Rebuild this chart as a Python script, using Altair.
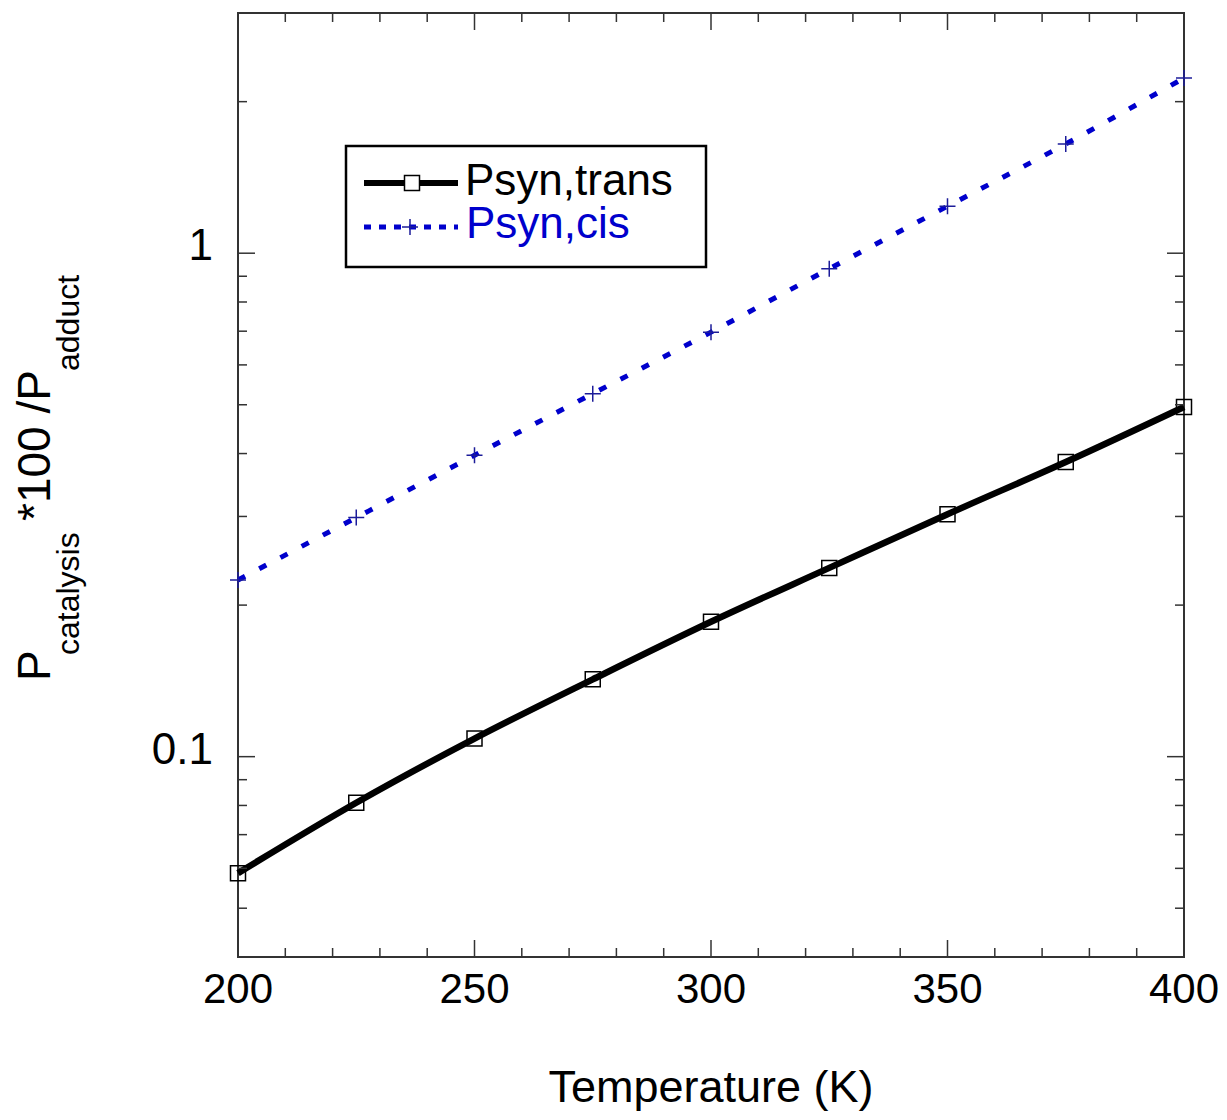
import altair as alt
import pandas as pd

# ---- data ----
temperature = [200, 225, 250, 275, 300, 325, 350, 375, 400]
p_trans = [0.0587, 0.0810, 0.1086, 0.1424, 0.1853, 0.2371, 0.3031, 0.3848, 0.4950]
p_cis = [0.2243, 0.2985, 0.3968, 0.5260, 0.6969, 0.9312, 1.2396, 1.6484, 2.2284]
series_names = ["Psyn,trans", "Psyn,cis"]

x_label_values = [200, 250, 300, 350, 400]
x_minor_ticks = [210, 220, 230, 240, 260, 270, 280, 290, 310, 320, 330, 340,
                 360, 370, 380, 390]
y_label_values = [0.1, 1]
y_minor_ticks = [0.05, 0.06, 0.07, 0.08, 0.09, 0.2, 0.3, 0.4, 0.5, 0.6, 0.7,
                 0.8, 0.9, 2]
x_title = "Temperature (K)"
y_title_parts = ["P", "catalysis", "*100 /P", "adduct"]

FONT = "Liberation Sans"
W, H = 946, 944
BLUE = "#0000cc"
CROSS_BLUE = "#1c1c99"
TICK = "#333333"

df_trans = pd.DataFrame({"T": temperature, "P": p_trans})
df_cis = pd.DataFrame({"T": temperature, "P": p_cis})
one = pd.DataFrame({"k": [0]})

xscale = alt.Scale(domain=[200, 400], nice=False, zero=False)
yscale = alt.Scale(type="log", domain=[0.04, 3], nice=False)

X = alt.X("T:Q", scale=xscale, axis=None)
Y = alt.Y("P:Q", scale=yscale, axis=None)

line_trans = alt.Chart(df_trans).mark_line(
    color="black", strokeWidth=6.5, interpolate="monotone"
).encode(x=X, y=Y)

line_cis = alt.Chart(df_cis).mark_line(
    color=BLUE, strokeWidth=5, strokeDash=[8, 16], interpolate="monotone"
).encode(x=X, y=Y)

pts_trans = alt.Chart(df_trans).mark_point(
    shape="square", size=225, filled=False, color="black", strokeWidth=1.5, opacity=1
).encode(x=X, y=Y)

CROSS = "M-1,0L1,0M0,-1L0,1"
pts_cis = alt.Chart(df_cis).mark_point(
    shape=CROSS, size=256, filled=False, color=CROSS_BLUE, strokeWidth=1.5, opacity=1
).encode(x=X, y=Y)


# ---- inward ticks on all four sides ----
def xticks(values, length):
    d = pd.DataFrame({"v": values})
    bottom = alt.Chart(d).mark_rule(color=TICK, strokeWidth=1.5).encode(
        x=alt.X("v:Q", scale=xscale, axis=None),
        y=alt.value(H), y2=alt.value(H - length))
    top = alt.Chart(d).mark_rule(color=TICK, strokeWidth=1.5).encode(
        x=alt.X("v:Q", scale=xscale, axis=None),
        y=alt.value(0), y2=alt.value(length))
    return [bottom, top]


def yticks(values, length):
    d = pd.DataFrame({"v": values})
    left = alt.Chart(d).mark_rule(color=TICK, strokeWidth=1.5).encode(
        y=alt.Y("v:Q", scale=yscale, axis=None),
        x=alt.value(0), x2=alt.value(length))
    right = alt.Chart(d).mark_rule(color=TICK, strokeWidth=1.5).encode(
        y=alt.Y("v:Q", scale=yscale, axis=None),
        x=alt.value(W), x2=alt.value(W - length))
    return [left, right]


tick_layers = (xticks(x_label_values, 17) + xticks(x_minor_ticks, 9)
               + yticks(y_label_values, 17) + yticks(y_minor_ticks, 9))

# ---- tick labels (positioned through the scales) ----
x_labels = alt.Chart(pd.DataFrame({"v": x_label_values})).mark_text(
    align="center", baseline="alphabetic", fontSize=42, font=FONT, color="black"
).encode(
    x=alt.X("v:Q", scale=xscale, axis=None),
    y=alt.value(H + 46),
    text=alt.Text("v:Q", format="d"),
)
y_labels = alt.Chart(pd.DataFrame({"v": y_label_values})).mark_text(
    align="right", baseline="alphabetic", fontSize=44, font=FONT, color="black", dy=7
).encode(
    y=alt.Y("v:Q", scale=yscale, axis=None),
    x=alt.value(-25),
    text=alt.Text("v:Q", format="~g"),
)

x_title_mark = alt.Chart(one).mark_text(
    text=x_title, align="center", baseline="alphabetic", fontSize=45, font=FONT,
    color="black"
).encode(x=alt.value(W / 2), y=alt.value(1089))


# ---- y-axis title with subscripts ----
def ytext(txt, x, y, size):
    return alt.Chart(one).mark_text(
        text=txt, angle=270, align="left", baseline="alphabetic",
        fontSize=size, font=FONT, color="black"
    ).encode(x=alt.value(x), y=alt.value(y))


ytitle = [
    ytext(y_title_parts[0], -188, 668, 46),
    ytext(y_title_parts[1], -159, 642, 32),
    ytext(y_title_parts[2], -188, 508, 46),
    ytext(y_title_parts[3], -159, 358, 32),
]

# ---- legend box ----
leg_box = alt.Chart(one).mark_rect(fill="white", stroke="black", strokeWidth=2.5).encode(
    x=alt.value(108), x2=alt.value(468), y=alt.value(133), y2=alt.value(254))
leg_line1 = alt.Chart(one).mark_rule(color="black", strokeWidth=6).encode(
    x=alt.value(126), x2=alt.value(220), y=alt.value(170))
leg_line2 = alt.Chart(one).mark_rule(color=BLUE, strokeWidth=5, strokeDash=[7, 8]).encode(
    x=alt.value(126), x2=alt.value(220), y=alt.value(214))
leg_sq = alt.Chart(one).mark_point(shape="square", size=225, filled=True, fill="white",
                                   stroke="black", strokeWidth=1.5, opacity=1).encode(
    x=alt.value(174), y=alt.value(170))
leg_cross = alt.Chart(one).mark_point(shape=CROSS, size=256, filled=False, color=CROSS_BLUE,
                                      strokeWidth=1.5, opacity=1).encode(
    x=alt.value(172), y=alt.value(214))
leg_t1 = alt.Chart(one).mark_text(text=series_names[0], align="left", baseline="alphabetic",
                                  fontSize=44, font=FONT, color="black").encode(
    x=alt.value(227), y=alt.value(182))
leg_t2 = alt.Chart(one).mark_text(text=series_names[1], align="left", baseline="alphabetic",
                                  fontSize=44, font=FONT, color=BLUE).encode(
    x=alt.value(228), y=alt.value(225))

chart = alt.layer(
    line_trans, line_cis, pts_trans, pts_cis, *tick_layers,
    x_labels, y_labels, x_title_mark, *ytitle,
    leg_box, leg_line1, leg_line2, leg_sq, leg_cross, leg_t1, leg_t2
).properties(
    width=W, height=H,
    autosize=alt.AutoSizeParams(type="none"),
    padding={"left": 230, "top": 5, "right": 35, "bottom": 155},
).configure_view(stroke="#333333", strokeWidth=2)

chart.save("out.html", embed_options={"renderer": "svg", "actions": False})
